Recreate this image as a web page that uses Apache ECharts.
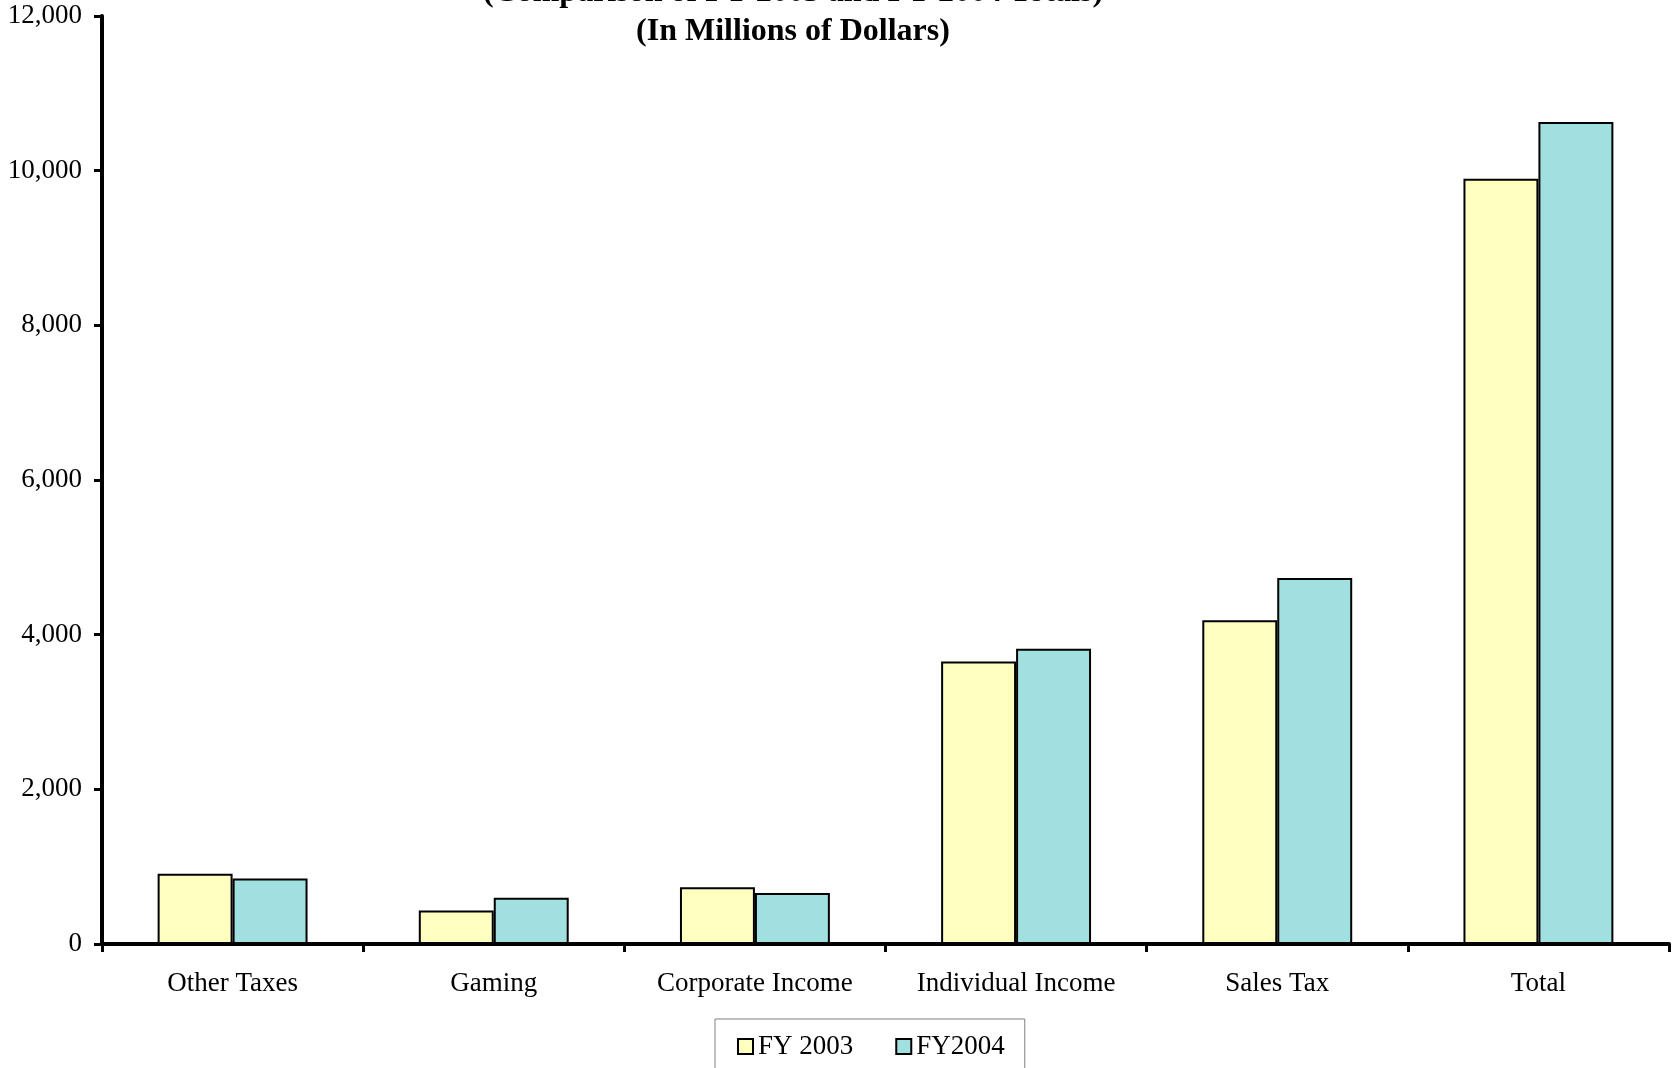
<!DOCTYPE html>
<html>
<head>
<meta charset="utf-8">
<script src="https://cdn.jsdelivr.net/npm/echarts@6/dist/echarts.min.js"></script>
<style>html,body{margin:0;padding:0;background:#fff;}#chart{width:1678px;height:1068px;}</style>
</head>
<body>
<div id="chart"></div>
<script>
const categories = ['Other Taxes', 'Gaming', 'Corporate Income', 'Individual Income', 'Sales Tax', 'Total'];
const fy2003 = [908, 433, 735, 3652, 4188, 9895];
const fy2004 = [848, 598, 658, 3818, 4733, 10628];
const seriesNames = ['FY 2003', 'FY2004'];
const titleLines = ['(Comparison of FY 2003 and FY 2004 Totals)', '(In Millions of Dollars)'];

const FONT = '"Liberation Serif", "Times New Roman", serif';
const chart = echarts.init(document.getElementById('chart'), null, {renderer: 'canvas'});
chart.setOption({
  backgroundColor: '#ffffff',
  animation: false,
  title: [
    {text: titleLines[0], left: 793, top: -23, textAlign: 'center', padding: 0,
     textStyle: {fontFamily: FONT, fontWeight: 'bold', fontSize: 32, color: '#000', lineHeight: 32}},
    {text: titleLines[1], left: 793, top: 16, textAlign: 'center', padding: 0,
     textStyle: {fontFamily: FONT, fontWeight: 'bold', fontSize: 32, color: '#000', lineHeight: 32}}
  ],
  legend: {
    data: seriesNames,
    left: 715, top: 1019,
    orient: 'horizontal',
    padding: [14, 20, 10, 22],
    itemGap: 42,
    itemWidth: 15, itemHeight: 15,
    icon: 'rect',
    borderColor: '#808080', borderWidth: 1,
    backgroundColor: '#fff',
    itemStyle: {borderColor: '#000', borderWidth: 2},
    textStyle: {fontFamily: FONT, fontSize: 27, color: '#000'}
  },
  grid: {left: 102, right: 9, top: 16, bottom: 124, containLabel: false},
  xAxis: {
    type: 'category',
    data: categories,
    axisLine: {lineStyle: {color: '#000', width: 4}},
    axisTick: {show: true, alignWithLabel: false, length: 8, lineStyle: {color: '#000', width: 3}},
    axisLabel: {fontFamily: FONT, fontSize: 27, color: '#000', margin: 26, interval: 0}
  },
  yAxis: {
    type: 'value',
    min: 0, max: 12000, interval: 2000,
    axisLine: {show: true, lineStyle: {color: '#000', width: 4}},
    axisTick: {show: true, length: 8, lineStyle: {color: '#000', width: 3}},
    splitLine: {show: false},
    axisLabel: {fontFamily: FONT, fontSize: 27, color: '#000', margin: 20,
      formatter: v => v.toLocaleString('en-US')}
  },
  series: [
    {name: seriesNames[0], type: 'bar', data: fy2003, barGap: '0%', barCategoryGap: '42.6%',
     itemStyle: {color: '#FFFFC0', borderColor: '#000', borderWidth: 2}},
    {name: seriesNames[1], type: 'bar', data: fy2004, barGap: '0%', barCategoryGap: '42.6%',
     itemStyle: {color: '#A0E0E0', borderColor: '#000', borderWidth: 2}}
  ]
});
</script>
</body>
</html>
